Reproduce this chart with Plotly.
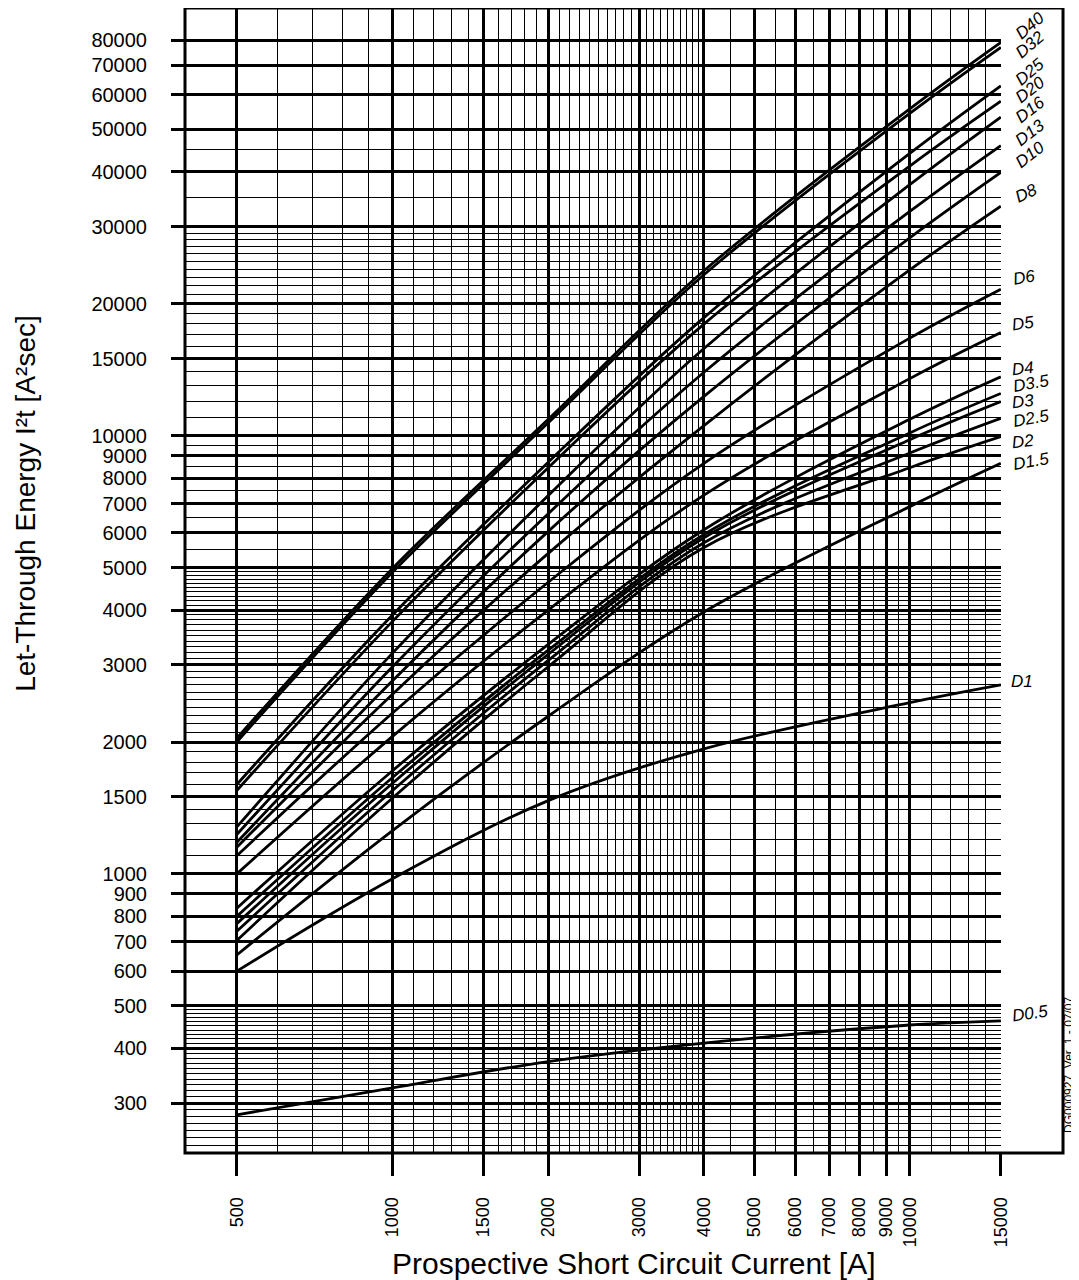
import math
import plotly.graph_objects as go

# prospective short circuit current [A] at which values were read
current = [500, 1000, 2000, 4000, 10000, 15000]

# let-through energy I2t [A2sec], one list per breaker rating
d40 = [2040, 4980, 10900, 23800, 55700, 79000]
d32 = [2000, 4880, 10700, 23300, 54400, 77000]
d25 = [1600, 3900, 8700, 18600, 44100, 62900]
d20 = [1550, 3770, 8450, 17980, 41250, 58000]
d16 = [1280, 3190, 7300, 15810, 37400, 53350]
d13 = [1230, 2970, 6640, 13960, 32500, 45950]
d10 = [1180, 2760, 6050, 12300, 28300, 39900]
d8 = [1150, 2570, 5390, 10550, 23900, 33400]
d6 = [1100, 2330, 4630, 8650, 16700, 21600]
d5 = [1000, 2060, 4000, 7320, 13500, 17200]
d4 = [835, 1720, 3340, 6100, 10900, 13630]
d3_5 = [800, 1660, 3240, 5950, 10150, 12490]
d3 = [770, 1610, 3170, 5850, 9790, 11960]
d2_5 = [740, 1550, 3070, 5700, 9130, 10960]
d2 = [705, 1490, 2970, 5560, 8450, 9950]
d1_5 = [653, 1256, 2290, 3960, 6890, 8650]
d1 = [600, 975, 1470, 1930, 2460, 2700]
d0_5 = [282, 325, 373, 411, 452, 462]

curve_names = ["D40", "D32", "D25", "D20", "D16", "D13", "D10", "D8", "D6",
               "D5", "D4", "D3.5", "D3", "D2.5", "D2", "D1.5", "D1", "D0.5"]
curves = [d40, d32, d25, d20, d16, d13, d10, d8, d6,
          d5, d4, d3_5, d3, d2_5, d2, d1_5, d1, d0_5]

# label styling (angle, vertical nudge in px)
label_angle = [-40, -40, -40, -38, -38, -38, -38, -25, -10,
               -8, -6, -10, -6, -10, -6, -10, 0, -8]
label_shift = [17, 3, 14, 12, 8, 13, 18, 13, 12,
               9, 8, 10, 0, 0, -5, 2, 3, 7]

x_ticks = [500, 1000, 1500, 2000, 3000, 4000, 5000, 6000, 7000, 8000,
           9000, 10000, 15000]
y_ticks = [300, 400, 500, 600, 700, 800, 900, 1000, 1500, 2000, 3000, 4000,
           5000, 6000, 7000, 8000, 9000, 10000, 15000, 20000, 30000, 40000,
           50000, 60000, 70000, 80000]

# thin grid lines of the log paper
x_minor = ([v for v in range(600, 1000, 100)]
           + [v for v in range(1100, 4000, 100) if v not in (1500, 2000, 3000)]
           + [v for v in range(4500, 10000, 1000)]
           + [v for v in range(11000, 15000, 1000)])
y_minor = ([v for v in range(230, 500, 10) if v not in (300, 400)]
           + [v for v in range(1100, 5000, 100) if v not in (1500, 2000, 3000, 4000)]
           + [v for v in range(5500, 10000, 1000)]
           + [v for v in range(11000, 30000, 1000) if v not in (15000, 20000)]
           + [35000, 45000])

FONT = "Liberation Sans, Arial, sans-serif"

fig = go.Figure()
for name, vals in zip(curve_names, curves):
    fig.add_trace(go.Scatter(x=current, y=vals, mode="lines", name=name,
                             line=dict(color="black", width=2.8,
                                       shape="spline", smoothing=1.0)))

# curve labels at the right end of each line
for name, vals, ang, dy in zip(curve_names, curves, label_angle, label_shift):
    fig.add_annotation(x=1.0098, xref="paper", y=math.log10(vals[-1]), yref="y",
                       text="<i>" + name + "</i>", showarrow=False,
                       xanchor="left", yanchor="middle", textangle=ang,
                       yshift=dy, font=dict(family=FONT, size=17, color="black"))

# axis titles
fig.add_annotation(x=0.5502, y=-0.0961, xref="paper", yref="paper",
                   xanchor="center", yanchor="middle",
                   text="Prospective Short Circuit Current [A]", showarrow=False,
                   font=dict(family=FONT, size=30, color="black"))
fig.add_annotation(x=-0.195, y=0.5677, xref="paper", yref="paper",
                   xanchor="center", yanchor="middle",
                   text="Let-Through Energy I²t [A²sec]", showarrow=False,
                   textangle=-90, font=dict(family=FONT, size=28, color="black"))
fig.add_annotation(x=1.0833, y=0.0769, xref="paper", yref="paper",
                   xanchor="center", yanchor="middle",
                   text="DG000927  Ver. 1 - 07/07", showarrow=False,
                   textangle=-90, font=dict(family=FONT, size=12, color="black"))

# outer frame incl. the label strip
fig.add_shape(type="rect", xref="paper", yref="paper", x0=0, x1=1.076, y0=0, y1=1,
              line=dict(color="black", width=3), layer="above")

fig.update_xaxes(type="log", range=[math.log10(397), math.log10(15010)],
                 tickmode="array", tickvals=x_ticks,
                 ticktext=[str(v) for v in x_ticks], tickangle=-90,
                 ticks="outside", ticklen=22, tickwidth=3, tickcolor="black",
                 ticklabelstandoff=14,
                 tickfont=dict(family=FONT, size=18, color="black"),
                 showgrid=True, gridcolor="black", gridwidth=2.6,
                 minor=dict(tickmode="array", tickvals=x_minor, showgrid=True,
                            gridcolor="black", gridwidth=1.2, ticks=""),
                 showline=False, zeroline=False)
fig.update_yaxes(type="log", range=[math.log10(230.7), math.log10(94660)],
                 tickmode="array", tickvals=y_ticks,
                 ticktext=[str(v) for v in y_ticks],
                 ticks="outside", ticklen=13, tickwidth=3, tickcolor="black",
                 ticklabelstandoff=20,
                 tickfont=dict(family=FONT, size=20, color="black"),
                 showgrid=True, gridcolor="black", gridwidth=2.6,
                 minor=dict(tickmode="array", tickvals=y_minor, showgrid=True,
                            gridcolor="black", gridwidth=1.2, ticks=""),
                 showline=False, zeroline=False)

# the page adds an 8 px body margin; size and margins compensate for it
fig.update_layout(width=1071, height=1272,
                  margin=dict(l=177, r=78, t=0, b=127),
                  plot_bgcolor="white", paper_bgcolor="white",
                  showlegend=False, font=dict(family=FONT, color="black"))

fig.write_html("out.html")
